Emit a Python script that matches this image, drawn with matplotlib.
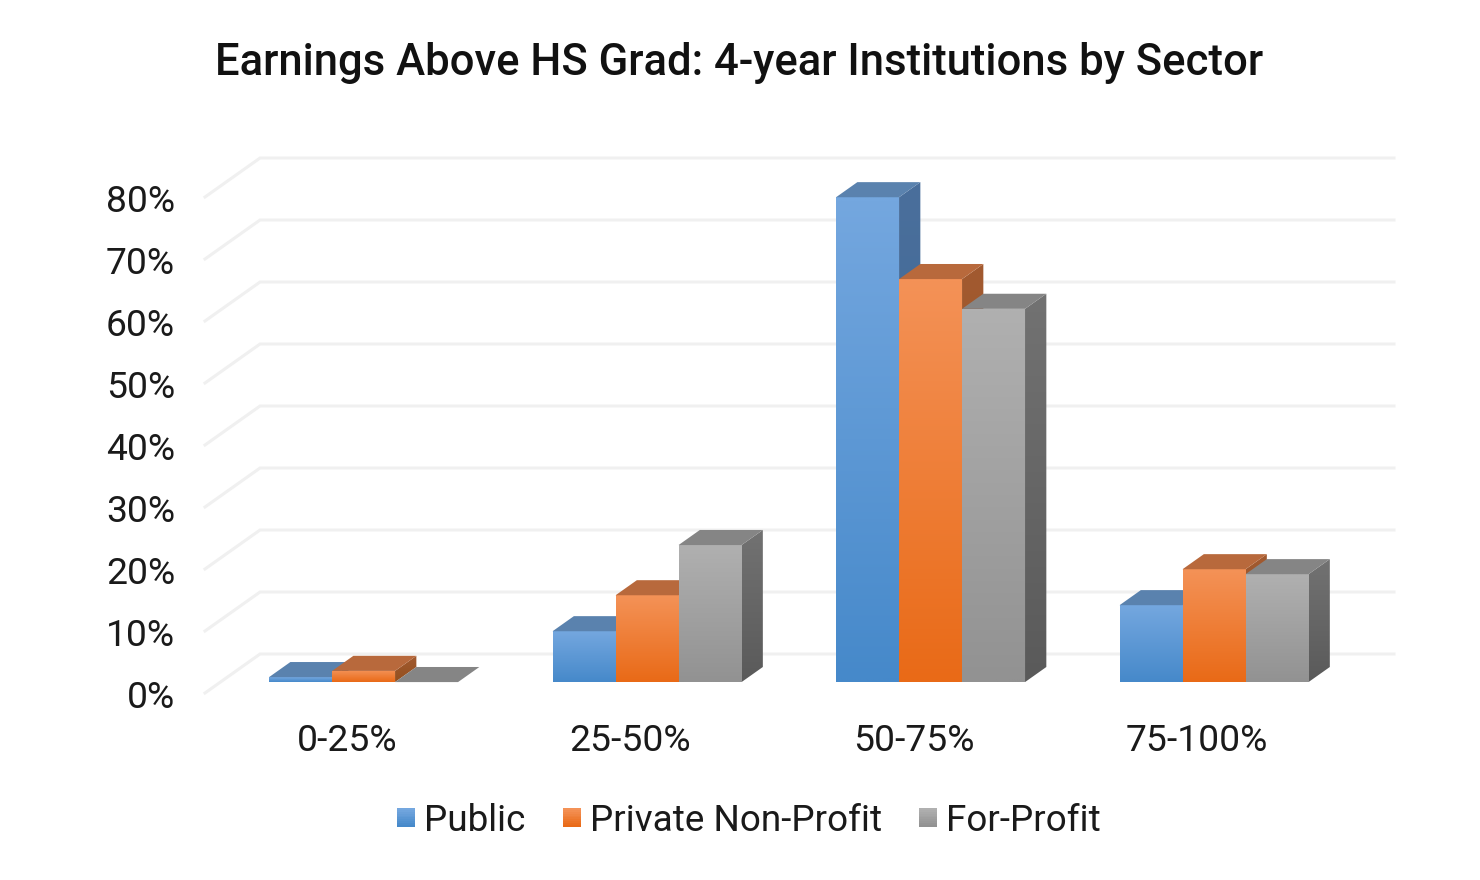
import matplotlib
matplotlib.use("Agg")
import matplotlib.pyplot as plt
import numpy as np
from matplotlib.colors import to_rgb
from matplotlib.legend_handler import HandlerBase
from matplotlib.patches import Patch, Polygon, Rectangle
from matplotlib.transforms import ScaledTranslation

plt.rcParams["font.family"] = ["Roboto", "DejaVu Sans"]

categories = ["0-25%", "25-50%", "50-75%", "75-100%"]
public = [0.8, 8.2, 78.2, 12.4]
private_non_profit = [1.8, 14.0, 65.0, 18.2]
for_profit = [0.0, 22.1, 60.2, 17.4]
y_ticks = [0, 10, 20, 30, 40, 50, 60, 70, 80]
y_tick_labels = ["0%", "10%", "20%", "30%", "40%", "50%", "60%", "70%", "80%"]

# fake 3d: full depth of the floor in data units, bars sit in the middle of it
DEPTH_X = 55 / 283.3
DEPTH_Y = 6.29
BAR_FRONT = 0.28
BAR_BACK = 0.667
BAR_W = 0.2222

styles = [
    ("Public", public, {"front": ("#74a7df", "#4689ca"), "side": ("#4a6f9c", "#3c6590"), "top": "#5a82ae"}),
    ("Private Non-Profit", private_non_profit, {"front": ("#f49257", "#e96a17"), "side": ("#a25a30", "#93501f"), "top": "#b8693c"}),
    ("For-Profit", for_profit, {"front": ("#b0b0b0", "#929292"), "side": ("#727272", "#5a5a5a"), "top": "#858585"}),
]


def project(x, y, z):
    return (x + z * DEPTH_X, y + z * DEPTH_Y)


def gradient_face(ax, pts, c_top, c_bottom, zorder):
    pts = np.array(pts)
    poly = Polygon(pts, closed=True, facecolor="none", edgecolor="none", zorder=zorder)
    ax.add_patch(poly)
    grad = np.linspace(to_rgb(c_top), to_rgb(c_bottom), 64).reshape(64, 1, 3)
    extent = (pts[:, 0].min(), pts[:, 0].max(), pts[:, 1].min(), pts[:, 1].max())
    im = ax.imshow(grad, extent=extent, aspect="auto", origin="upper", interpolation="bilinear", zorder=zorder)
    im.set_clip_path(poly)


class GradientSwatch(HandlerBase):
    def create_artists(self, legend, orig_handle, xdescent, ydescent, width, height, fontsize, trans):
        c_top, c_bottom = orig_handle.gradient
        artists = []
        n = 10
        size = width
        y0 = (height - size) / 2 - ydescent
        for k in range(n):
            col = np.array(to_rgb(c_top)) + (np.array(to_rgb(c_bottom)) - np.array(to_rgb(c_top))) * k / (n - 1)
            artists.append(Rectangle((-xdescent, y0 + size * (n - 1 - k) / n), width, size / n + 0.3,
                                     facecolor=col, edgecolor="none", transform=trans))
        return artists


fig = plt.figure(figsize=(14.8, 8.8), dpi=100)
ax = fig.add_axes([205 / 1480, (880 - 693) / 880, (1394 - 205) / 1480, (693 - 133) / 880])

# walls
for v in y_ticks:
    line = [project(0, v, 0), project(0, v, 1), project(4, v, 1)]
    ax.plot([p[0] for p in line], [p[1] for p in line], color="#f0f0f0", lw=2.2, zorder=1,
            solid_joinstyle="miter", clip_on=False)

order = 2
for i in range(len(categories)):
    for j, (name, values, st) in enumerate(styles):
        x0 = i + 1 / 6 + j * BAR_W + 0.005
        x1 = x0 + BAR_W
        h = values[i]
        base = [project(x0, 0, BAR_FRONT), project(x1, 0, BAR_FRONT), project(x1, 0, BAR_BACK), project(x0, 0, BAR_BACK)]
        top = [project(x0, h, BAR_FRONT), project(x1, h, BAR_FRONT), project(x1, h, BAR_BACK), project(x0, h, BAR_BACK)]
        if h > 0:
            gradient_face(ax, [base[1], base[2], top[2], top[1]], *st["side"], order)
            gradient_face(ax, [base[0], base[1], top[1], top[0]], *st["front"], order + 1)
        ax.add_patch(Polygon(top, closed=True, facecolor=st["top"], edgecolor="none", zorder=order + 1))
        order += 2

ax.set_xlim(0, 4 + DEPTH_X)
ax.set_ylim(0, 560 / 6.2)
ax.set_aspect("auto")
for s in ax.spines.values():
    s.set_visible(False)
ax.patch.set_visible(False)

ax.set_yticks(y_ticks)
ax.set_yticklabels(y_tick_labels)
ax.set_xticks(np.arange(len(categories)) + 0.5)
ax.set_xticklabels(categories)
ax.tick_params(axis="y", length=0, pad=21.5, labelsize=26.8, labelcolor="#1a1a1a")
ax.tick_params(axis="x", length=0, pad=21.5, labelsize=26.8, labelcolor="#1a1a1a")
# labels sit a touch lower than the ticks in the original
nudge = ScaledTranslation(0, -0.7 / 72, fig.dpi_scale_trans)
for lab in ax.get_yticklabels():
    lab.set_transform(lab.get_transform() + nudge)

fig.text(739 / 1480, 1 - 62.5 / 880, "Earnings Above HS Grad: 4-year Institutions by Sector",
         ha="center", va="center", fontsize=31.4, fontweight="medium", color="#111111")

handles = []
for name, values, st in styles:
    h = Patch(label=name)
    h.gradient = st["front"]
    handles.append(h)
fig.legend(handles=handles, handler_map={Patch: GradientSwatch()}, loc="center",
           bbox_to_anchor=(749 / 1480, 1 - 821 / 880), ncol=3, frameon=False, fontsize=26.6,
           labelcolor="#1a1a1a", handlelength=0.5, handleheight=0.5, handletextpad=0.24,
           columnspacing=1.0, borderpad=0, borderaxespad=0)

fig.savefig("out.png", dpi=100)
